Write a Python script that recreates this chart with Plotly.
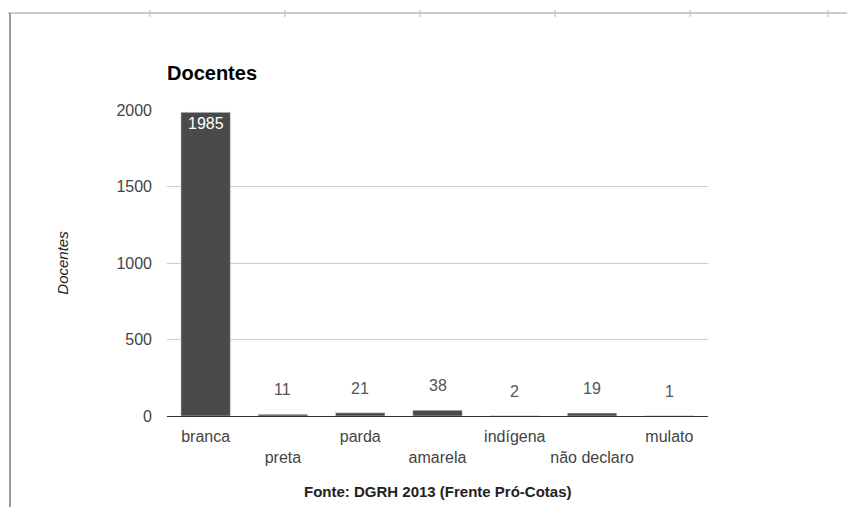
import plotly.graph_objects as go

categories = ["branca", "preta", "parda", "amarela", "indígena", "não declaro", "mulato"]
values = [1985, 11, 21, 38, 2, 19, 1]
tick_vals = [0, 500, 1000, 1500, 2000]

# staggered tick labels (every second label on a lower line)
tick_text = [c if i % 2 == 0 else "<br>" + c for i, c in enumerate(categories)]

fig = go.Figure()
fig.add_trace(go.Bar(
    x=categories, y=values, marker_color="#4a4a4a", width=0.64,
    hoverinfo="x+y",
))

# value labels
for c, v in zip(categories, values):
    if v > 1000:
        fig.add_annotation(x=c, y=v, text=str(v), showarrow=False, yanchor="top",
                           yshift=-1, font=dict(color="white", size=16, family="Arial"))
    else:
        fig.add_annotation(x=c, y=v, text=str(v), showarrow=False, yanchor="bottom",
                           yshift=14, font=dict(color="#555", size=16, family="Arial"))

fig.add_annotation(xref="paper", yref="paper", x=0.5, y=-0.248, yanchor="middle",
                   text="<b>Fonte: DGRH 2013 (Frente Pró-Cotas)</b>", showarrow=False,
                   font=dict(size=15, color="#222", family="Arial"))

# screenshot frame lines (decoration)
L, W, T, H = 159, 541, 102, 306
def px_x(p):
    return (p - 8 - L) / W
def px_y(p):
    return 1 - (p - 8 - T) / H

fig.add_shape(type="line", xref="paper", yref="paper", x0=px_x(7), x1=px_x(860), y0=px_y(13), y1=px_y(13),
              line=dict(color="#999", width=1))
fig.add_shape(type="line", xref="paper", yref="paper", x0=px_x(10), x1=px_x(10), y0=px_y(13), y1=px_y(515),
              line=dict(color="#999", width=2))
for p in [150, 285, 420, 555, 690, 828]:
    fig.add_shape(type="line", xref="paper", yref="paper", x0=px_x(p), x1=px_x(p), y0=px_y(10), y1=px_y(17),
                  line=dict(color="#bbb", width=1))

fig.update_layout(
    width=855, height=507,
    margin=dict(l=L, r=855 - L - W, t=T, b=507 - T - H),
    paper_bgcolor="white", plot_bgcolor="white",
    showlegend=False,
    font=dict(family="Arial", color="#444", size=16),
    title=dict(text="<b>Docentes</b>", x=L / 855, xanchor="left", y=1 - 65 / 507, yanchor="middle",
               font=dict(size=20, color="#000", family="Arial")),
    xaxis=dict(tickmode="array", tickvals=categories, ticktext=tick_text,
               showgrid=False, showline=False, ticks="", ticklen=0, ticklabelstandoff=9,
               tickfont=dict(size=16, color="#444"), range=[-0.5, 6.5]),
    yaxis=dict(range=[0, 2000], tickvals=tick_vals, showgrid=True, gridcolor="#ccc",
               zeroline=True, zerolinecolor="#333", zerolinewidth=1,
               tickfont=dict(size=16, color="#444"), ticks="", ticklabelstandoff=14,
               title=dict(text="<i>Docentes</i>", font=dict(size=15, color="#222"), standoff=44)),
    bargap=0.36,
)

fig.write_html("out.html")
